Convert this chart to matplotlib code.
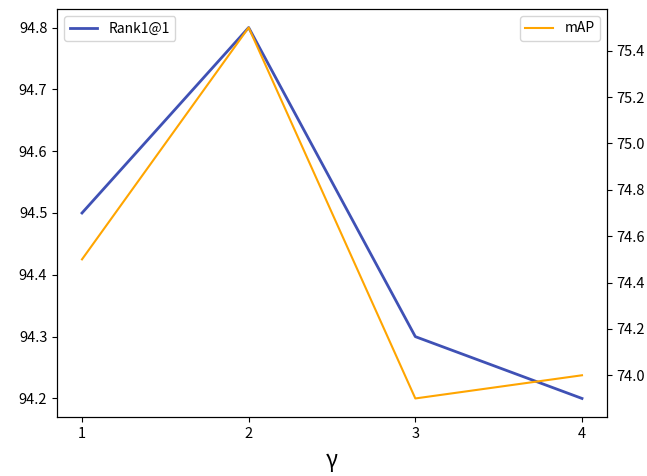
import matplotlib
matplotlib.use("Agg")
import matplotlib.pyplot as plt

plt.rcParams['font.family'] = ['Noto Sans CJK SC', 'DejaVu Sans']

gamma = [1, 2, 3, 4]
rank1 = [94.5, 94.8, 94.3, 94.2]
mAP = [74.5, 75.5, 73.9, 74.0]

fig = plt.figure(figsize=(6.47, 4.76), dpi=100)
ax1 = fig.add_axes([57/647, 1-417/476, 550/647, 408/476])
ax1.plot(gamma, rank1, color='#3F51B5', lw=2, label='Rank1@1')
ax1.set_xticks(gamma)
ax1.set_xlabel('γ', fontsize=16, labelpad=6)
ax1.tick_params(labelsize=10.5)
ax1.legend(loc='upper left')

ax2 = ax1.twinx()
ax2.plot(gamma, mAP, color='#FFA500', lw=1.5, label='mAP')
ax2.tick_params(labelsize=10.5)
ax2.legend(loc='upper right')

fig.savefig('out.png', dpi=100)
